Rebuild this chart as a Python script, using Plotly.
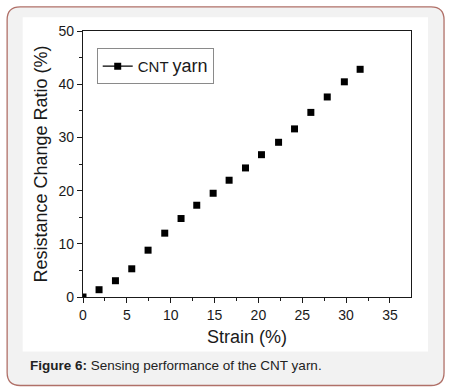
import plotly.graph_objects as go

# Data
strain = [0, 1.83, 3.7, 5.56, 7.42, 9.32, 11.18, 12.97, 14.84, 16.66,
          18.53, 20.35, 22.3, 24.12, 25.98, 27.85, 29.8, 31.6]
resistance_ratio = [0, 1.37, 3.06, 5.3, 8.8, 12.0, 14.75, 17.25, 19.5, 21.95,
                    24.26, 26.75, 29.08, 31.6, 34.7, 37.6, 40.45, 42.8]
x_ticks = [0, 5, 10, 15, 20, 25, 30, 35]
y_ticks = [0, 10, 20, 30, 40, 50]

W, H = 454, 391
ML, MR, MT, MB = 83.3, 43, 30.7, 93.7
PW, PH = W - ML - MR, H - MT - MB


def px(x):
    return (x - ML) / PW


def py(y):
    return (H - MB - y) / PH


def rounded_rect(x0, y0, x1, y1, r):
    pts = []
    pts.append(f"M {px(x0 + r)},{py(y0)}")
    pts.append(f"L {px(x1 - r)},{py(y0)}")
    pts.append(f"Q {px(x1)},{py(y0)} {px(x1)},{py(y0 + r)}")
    pts.append(f"L {px(x1)},{py(y1 - r)}")
    pts.append(f"Q {px(x1)},{py(y1)} {px(x1 - r)},{py(y1)}")
    pts.append(f"L {px(x0 + r)},{py(y1)}")
    pts.append(f"Q {px(x0)},{py(y1)} {px(x0)},{py(y1 - r)}")
    pts.append(f"L {px(x0)},{py(y0 + r)}")
    pts.append(f"Q {px(x0)},{py(y0)} {px(x0 + r)},{py(y0)}")
    pts.append("Z")
    return " ".join(pts)


fig = go.Figure()

fig.add_trace(go.Scatter(
    x=strain, y=resistance_ratio, mode="markers",
    marker=dict(symbol="square", size=7, color="black"),
    showlegend=False, cliponaxis=True,
))
# legend entry (line + square marker)
fig.add_trace(go.Scatter(
    x=[None], y=[None], mode="lines+markers",
    name="<span style='font-size:15px'>CNT </span><span style='font-size:18px'>yarn</span>",
    line=dict(color="black", width=1.3),
    marker=dict(symbol="square", size=7, color="black"),
))

shapes = [
    dict(type="path", xref="paper", yref="paper", layer="below",
         path=rounded_rect(7.5, 6.5, 444, 386, 13),
         fillcolor="#f2f2f2", line=dict(color="#b07068", width=1.3)),
    dict(type="rect", xref="paper", yref="paper", layer="below",
         x0=px(23), x1=px(428), y0=py(17), y1=py(352),
         fillcolor="white", line=dict(width=0)),
]

axis_common = dict(
    showline=True, linecolor="#1a1a1a", linewidth=1.3, mirror=True,
    ticks="outside", ticklen=5, tickwidth=1.2, tickcolor="#1a1a1a",
    showgrid=False, zeroline=False,
    tickfont=dict(family="Liberation Sans, Arial", size=14, color="#1a1a1a"),
)

fig.update_layout(
    width=W, height=H,
    margin=dict(l=ML, r=MR, t=MT, b=MB, autoexpand=False),
    paper_bgcolor="white", plot_bgcolor="rgba(0,0,0,0)",
    shapes=shapes,
    xaxis=dict(
        range=[0, 37.4], tickvals=x_ticks,
        minor=dict(dtick=2.5, tick0=0, ticks="outside", ticklen=3,
                   tickwidth=1, tickcolor="#1a1a1a"),
        title=dict(text="Strain (%)", standoff=8,
                   font=dict(family="Liberation Sans, Arial", size=18, color="#1a1a1a")),
        **axis_common,
    ),
    yaxis=dict(
        range=[0, 50], tickvals=y_ticks,
        minor=dict(dtick=5, tick0=0, ticks="outside", ticklen=3,
                   tickwidth=1, tickcolor="#1a1a1a"),
        title=dict(text="Resistance Change Ratio (%)", standoff=6,
                   font=dict(family="Liberation Sans, Arial", size=18, color="#1a1a1a")),
        **axis_common,
    ),
    legend=dict(
        x=px(97), y=py(48), xanchor="left", yanchor="top",
        bgcolor="white", bordercolor="#8a8a8a", borderwidth=1,
        font=dict(family="Liberation Sans, Arial", size=16, color="#1a1a1a"),
        tracegroupgap=0, itemwidth=30,
    ),
    annotations=[
        dict(xref="paper", yref="paper", x=px(28), y=py(366),
             xanchor="left", yanchor="middle", showarrow=False,
             text="<b>Figure 6:</b> Sensing performance of the CNT yarn.",
             font=dict(family="Liberation Sans, Arial", size=13.5, color="#222222")),
    ],
)

fig.write_html("out.html")
